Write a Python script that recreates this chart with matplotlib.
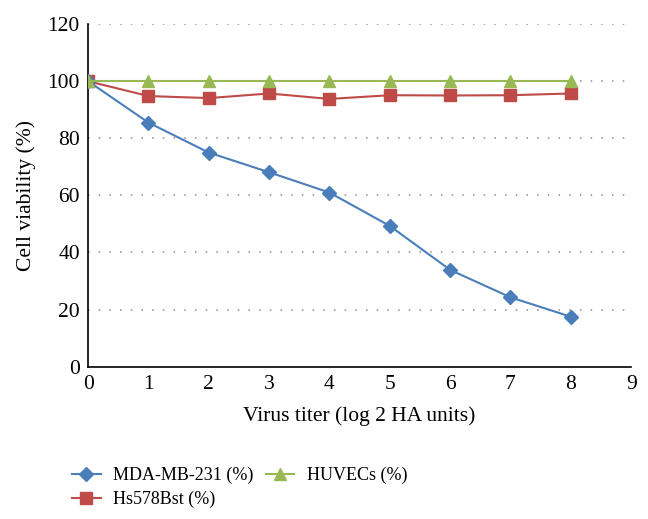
import numpy as np
import matplotlib
matplotlib.use("Agg")
import matplotlib.pyplot as plt

# Data
titer = [0, 1, 2, 3, 4, 5, 6, 7, 8]
mda_mb_231 = [100, 85.5, 75.0, 68.1, 61.0, 49.3, 33.9, 24.3, 17.5]
hs578bst = [100, 94.8, 94.1, 95.7, 93.8, 95.1, 95.0, 95.1, 95.7]
huvecs = [100, 100, 100, 100, 100, 100, 100, 100, 100]

series_names = ["MDA-MB-231 (%)", "Hs578Bst (%)", "HUVECs (%)"]
y_ticks = [0, 20, 40, 60, 80, 100, 120]
x_ticks = [0, 1, 2, 3, 4, 5, 6, 7, 8, 9]

plt.rcParams['font.family'] = ['Liberation Serif', 'DejaVu Serif']

fig = plt.figure(figsize=(6.48, 5.19), dpi=100)
ax = fig.add_axes([0.136, 0.2935, 0.838, 0.66])

# dotted horizontal gridlines
for yv in y_ticks[1:]:
    ax.axhline(yv, color='#8c8c8c', lw=1.1, ls=(0, (1, 6)), zorder=0)

ax.plot(titer, mda_mb_231, color='#4A7EBB', lw=1.5, marker='D', ms=7,
        label=series_names[0], zorder=3)
ax.plot(titer, hs578bst, color='#BE4B48', lw=1.5, marker='s', ms=8,
        label=series_names[1], zorder=2)
ax.plot(titer, huvecs, color='#98B954', lw=1.5, marker='^', ms=8.5,
        label=series_names[2], zorder=4)

ax.set_xlim(0, 9)
ax.set_ylim(0, 120)
ax.set_xticks(x_ticks)
ax.set_yticks(y_ticks)
ax.tick_params(length=0, labelsize=15.5, pad=6)
ax.spines['top'].set_visible(False)
ax.spines['right'].set_visible(False)
ax.spines['left'].set_linewidth(1.2)
ax.spines['bottom'].set_linewidth(1.2)

ax.set_xlabel("Virus titer (log 2 HA units)", fontsize=15.5, labelpad=9)
ax.set_ylabel("Cell viability (%)", fontsize=15.5, labelpad=8)

fig.legend(loc='upper left', bbox_to_anchor=(0.111, 0.1), ncol=2,
           frameon=False, fontsize=13, handlelength=1.6, columnspacing=0.65,
           labelspacing=0.35, borderaxespad=0, borderpad=0, handletextpad=0.7)

fig.savefig("out.png", dpi=100)
